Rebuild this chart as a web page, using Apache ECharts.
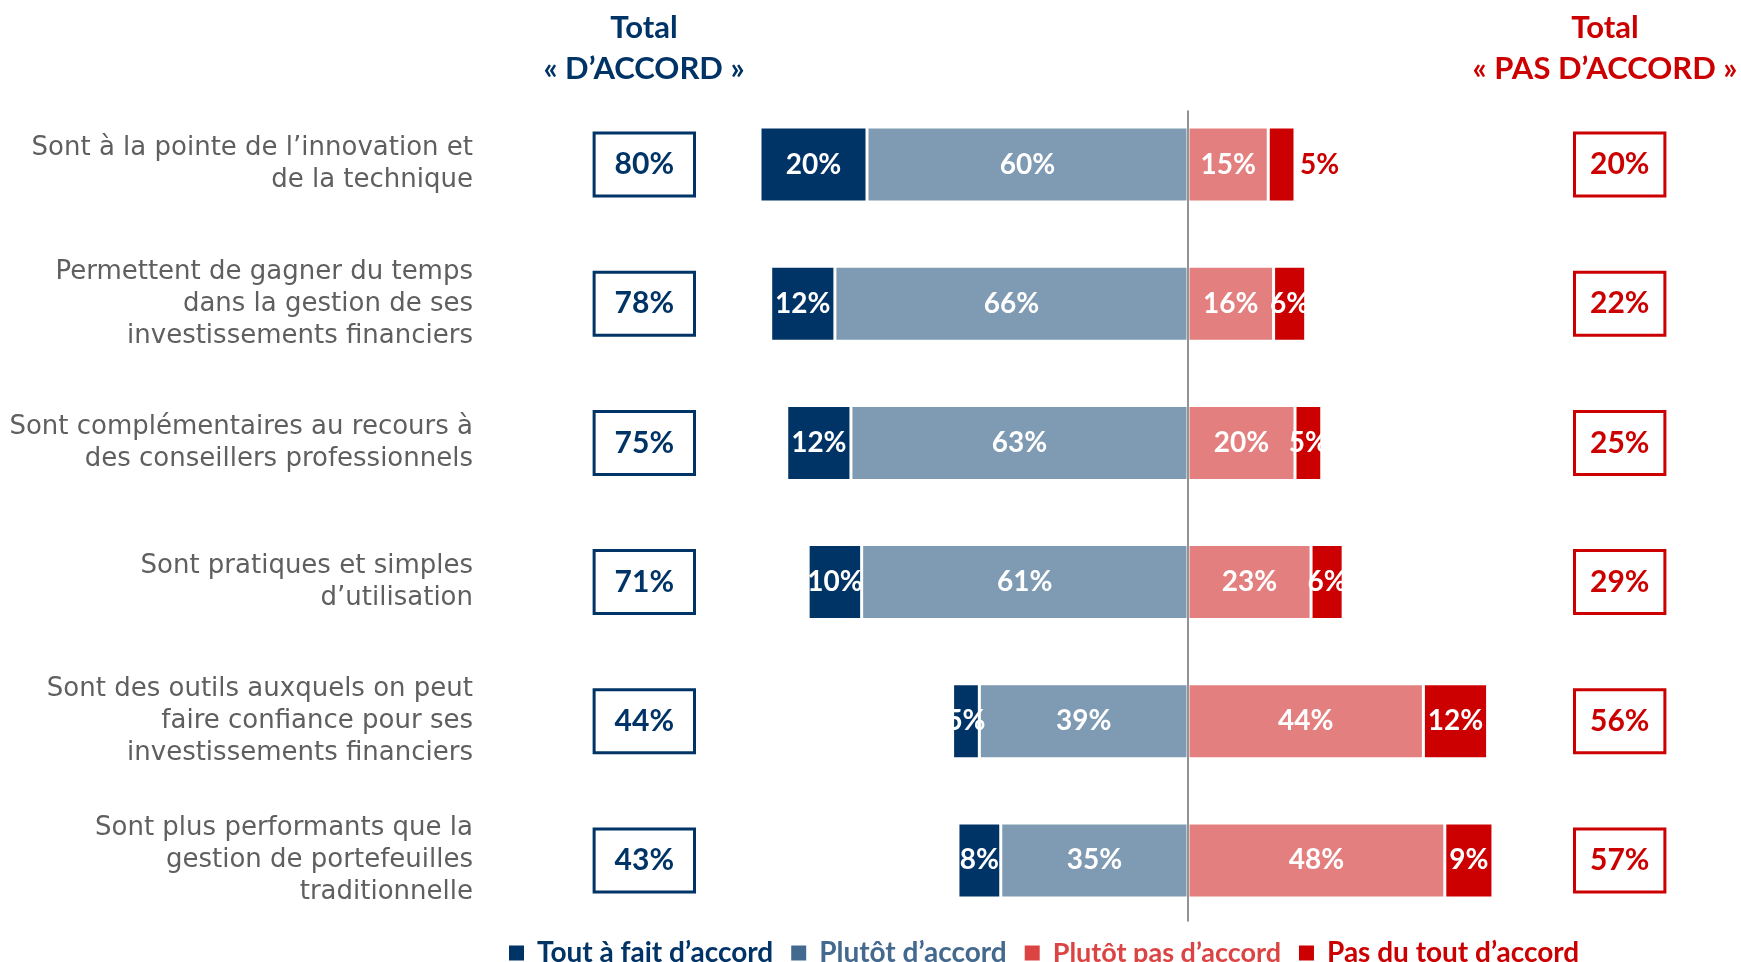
<!DOCTYPE html>
<html>
<head>
<meta charset="utf-8">
<script src="https://cdn.jsdelivr.net/npm/echarts@6/dist/echarts.min.js"></script>
<style>
  html, body { margin: 0; padding: 0; background: #fff; }
  #chart { width: 1741px; height: 962px; }
</style>
</head>
<body>
<div id="chart"></div>
<script>
// questions (top -> bottom)
const categories = [
  'Sont à la pointe de l’innovation et\nde la technique',
  'Permettent de gagner du temps\ndans la gestion de ses\ninvestissements financiers',
  'Sont complémentaires au recours à\ndes conseillers professionnels',
  'Sont pratiques et simples\nd’utilisation',
  'Sont des outils auxquels on peut\nfaire confiance pour ses\ninvestissements financiers',
  'Sont plus performants que la\ngestion de portefeuilles\ntraditionnelle'
];
const seriesNames = ['Tout à fait d’accord', 'Plutôt d’accord', 'Plutôt pas d’accord', 'Pas du tout d’accord'];
const toutAFait = [20, 12, 12, 10, 5, 8];
const plutot = [60, 66, 63, 61, 39, 35];
const plutotPas = [15, 16, 20, 23, 44, 48];
const pasDuTout = [5, 6, 5, 6, 12, 9];
const totalAccord = [80, 78, 75, 71, 44, 43];
const totalPasAccord = [20, 22, 25, 29, 56, 57];

const NAVY = '#003366';
const RED = '#cc0000';
const FONT = 'Lato';

const chart = echarts.init(document.getElementById('chart'));

// label des barres
function barLabel() {
  return {
    show: true,
    position: 'inside',
    color: '#fff',
    fontFamily: FONT,
    fontWeight: 'bold',
    fontSize: 28,
    formatter: p => Math.abs(p.value) + '%'
  };
}

// le 5% de la premiere ligne est ecrit a cote de la barre
const pasDuToutData = pasDuTout.map((v, i) => {
  if (i === 0) {
    return { value: v, label: { position: 'right', distance: 5, color: RED } };
  }
  return v;
});

function boxAxis(values, position, color, offset, padH) {
  return {
    type: 'category',
    inverse: true,
    position: position,
    offset: offset,
    data: values.map(v => v + '%'),
    axisLine: { show: false },
    axisTick: { show: false },
    axisLabel: {
      interval: 0,
      margin: 0,
      align: position === 'left' ? 'right' : 'left',
      color: color,
      fontFamily: FONT,
      fontWeight: 'bold',
      fontSize: 30,
      lineHeight: 36,
      backgroundColor: '#fff',
      borderColor: color,
      borderWidth: 3,
      padding: [12, padH]
    }
  };
}

chart.setOption({
  animation: false,
  title: [
    {
      text: 'Total\n« D’ACCORD »',
      left: 639,
      top: 2,
      textAlign: 'center',
      textStyle: { color: NAVY, fontFamily: FONT, fontWeight: 'bold', fontSize: 31, lineHeight: 41 }
    },
    {
      text: 'Total\n« PAS D’ACCORD »',
      left: 1600,
      top: 2,
      textAlign: 'center',
      textStyle: { color: RED, fontFamily: FONT, fontWeight: 'bold', fontSize: 31, lineHeight: 41 }
    }
  ],
  legend: {
    left: 502,
    top: 934,
    itemWidth: 17,
    itemHeight: 17,
    itemGap: 16,
    icon: 'rect',
    textStyle: { fontFamily: FONT, fontWeight: 'bold', fontSize: 28, padding: [0, 0, 0, 7] },
    data: [
      { name: seriesNames[0], itemStyle: { color: NAVY }, textStyle: { color: NAVY } },
      { name: seriesNames[1], itemStyle: { color: '#44698f' }, textStyle: { color: '#44698f', padding: [0, 42, 0, 7] } },
      { name: seriesNames[2], itemStyle: { color: '#dc4444' }, textStyle: { color: '#dc4444', fontSize: 27 } },
      { name: seriesNames[3], itemStyle: { color: RED }, textStyle: { color: RED } }
    ]
  },
  grid: [
    { left: 760, right: 232, top: 95, bottom: 32 },
    // grille vide pour la ligne verticale du zero
    { left: 760, right: 232, top: 111, bottom: 41 }
  ],
  xAxis: [
    { type: 'value', min: -80, max: 60, show: false },
    {
      type: 'value', gridIndex: 1, min: -80, max: 60,
      axisLine: { show: false }, axisTick: { show: false },
      axisLabel: { show: false }, splitLine: { show: false }
    }
  ],
  yAxis: [
    {
      type: 'category',
      inverse: true,
      position: 'left',
      offset: 287,
      data: categories,
      axisLine: { show: false },
      axisTick: { show: false },
      axisLabel: {
        interval: 0,
        margin: 0,
        align: 'right',
        color: '#5f5f5f',
        fontFamily: 'DejaVu Sans',
        fontSize: 26,
        lineHeight: 32
      }
    },
    boxAxis(totalAccord, 'left', NAVY, 67, 19),
    boxAxis(totalPasAccord, 'right', RED, 67, 14),
    {
      type: 'value',
      gridIndex: 1,
      min: 0,
      max: 1,
      z: 10,
      axisLine: { show: true, onZero: true, lineStyle: { color: '#6f6f6f', width: 1.5 } },
      axisTick: { show: false },
      axisLabel: { show: false },
      splitLine: { show: false }
    }
  ],
  series: [
    {
      name: seriesNames[1],
      type: 'bar',
      stack: 'total',
      barWidth: 75,
      data: plutot.map(v => -v),
      itemStyle: { color: '#7f9ab3', borderColor: '#fff', borderWidth: 1.5 },
      label: barLabel()
    },
    {
      name: seriesNames[0],
      type: 'bar',
      stack: 'total',
      data: toutAFait.map(v => -v),
      itemStyle: { color: NAVY, borderColor: '#fff', borderWidth: 1.5 },
      label: barLabel()
    },
    {
      name: seriesNames[2],
      type: 'bar',
      stack: 'total',
      data: plutotPas,
      itemStyle: { color: '#e47f7f', borderColor: '#fff', borderWidth: 1.5 },
      label: barLabel()
    },
    {
      name: seriesNames[3],
      type: 'bar',
      stack: 'total',
      data: pasDuToutData,
      itemStyle: { color: RED, borderColor: '#fff', borderWidth: 1.5 },
      label: barLabel()
    }
  ]
});
</script>
</body>
</html>
